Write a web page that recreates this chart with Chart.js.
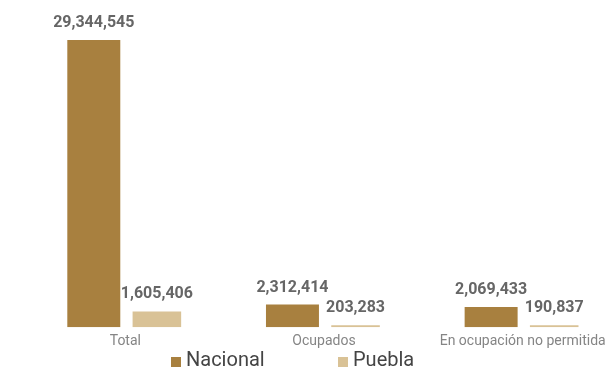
<!DOCTYPE html>
<html>
<head>
<meta charset="utf-8">
<script src="https://cdn.jsdelivr.net/npm/chart.js@4/dist/chart.umd.min.js"></script>
<style>
  html, body { margin: 0; padding: 0; background: #fff; overflow: hidden; }
  #contenedor { width: 630px; height: 370px; position: relative; }
</style>
</head>
<body>
<div id="contenedor"><canvas id="grafico"></canvas></div>
<script>
// Datos
var categorias = ["Total", "Ocupados", "En ocupación no permitida"];
var nacional = [29344545, 2312414, 2069433];
var puebla = [1605406, 203283, 190837];
var series = ["Nacional", "Puebla"];
var colores = ["#a8803f", "#d9c296"];

// Escribe el valor encima de cada barra
var etiquetasValor = {
    id: "etiquetasValor",
    afterDatasetsDraw: function(chart) {
        var ctx = chart.ctx;
        ctx.save();
        ctx.font = "bold 16px Roboto";
        ctx.fillStyle = "#666666";
        ctx.textAlign = "center";
        ctx.textBaseline = "bottom";
        chart.data.datasets.forEach(function(ds, i) {
            var meta = chart.getDatasetMeta(i);
            meta.data.forEach(function(barra, j) {
                ctx.fillText(ds.data[j].toLocaleString("en-US"), barra.x, barra.y - 9);
            });
        });
        ctx.restore();
    }
};

// Leyenda dibujada a mano debajo de las etiquetas del eje
var leyenda = {
    id: "leyenda",
    afterDraw: function(chart) {
        var ctx = chart.ctx;
        var xs = [171, 338];
        ctx.save();
        ctx.font = "20px Roboto";
        ctx.textBaseline = "middle";
        chart.data.datasets.forEach(function(ds, i) {
            ctx.fillStyle = ds.backgroundColor;
            ctx.fillRect(xs[i], 357, 10, 10);
            ctx.fillStyle = "#444444";
            ctx.fillText(ds.label, xs[i] + 15, 361);
        });
        ctx.restore();
    }
};

new Chart(document.getElementById("grafico"), {
    type: "bar",
    data: {
        labels: categorias,
        datasets: [
            { label: series[0], data: nacional, backgroundColor: colores[0], barPercentage: 0.84, categoryPercentage: 0.635 },
            { label: series[1], data: puebla, backgroundColor: colores[1], barPercentage: 0.77, categoryPercentage: 0.635 }
        ]
    },
    options: {
        responsive: true,
        maintainAspectRatio: false,
        animation: false,
        layout: { padding: { left: 26, right: 8, top: 40, bottom: 14 } },
        plugins: {
            legend: { display: false },
            tooltip: { enabled: false }
        },
        scales: {
            x: {
                grid: { display: false, drawTicks: false },
                border: { display: false },
                ticks: { color: "#858585", font: { family: "Roboto", size: 14 }, padding: 6 }
            },
            y: {
                display: false,
                min: 0,
                max: 29344545
            }
        }
    },
    plugins: [etiquetasValor, leyenda]
});
</script>
</body>
</html>
